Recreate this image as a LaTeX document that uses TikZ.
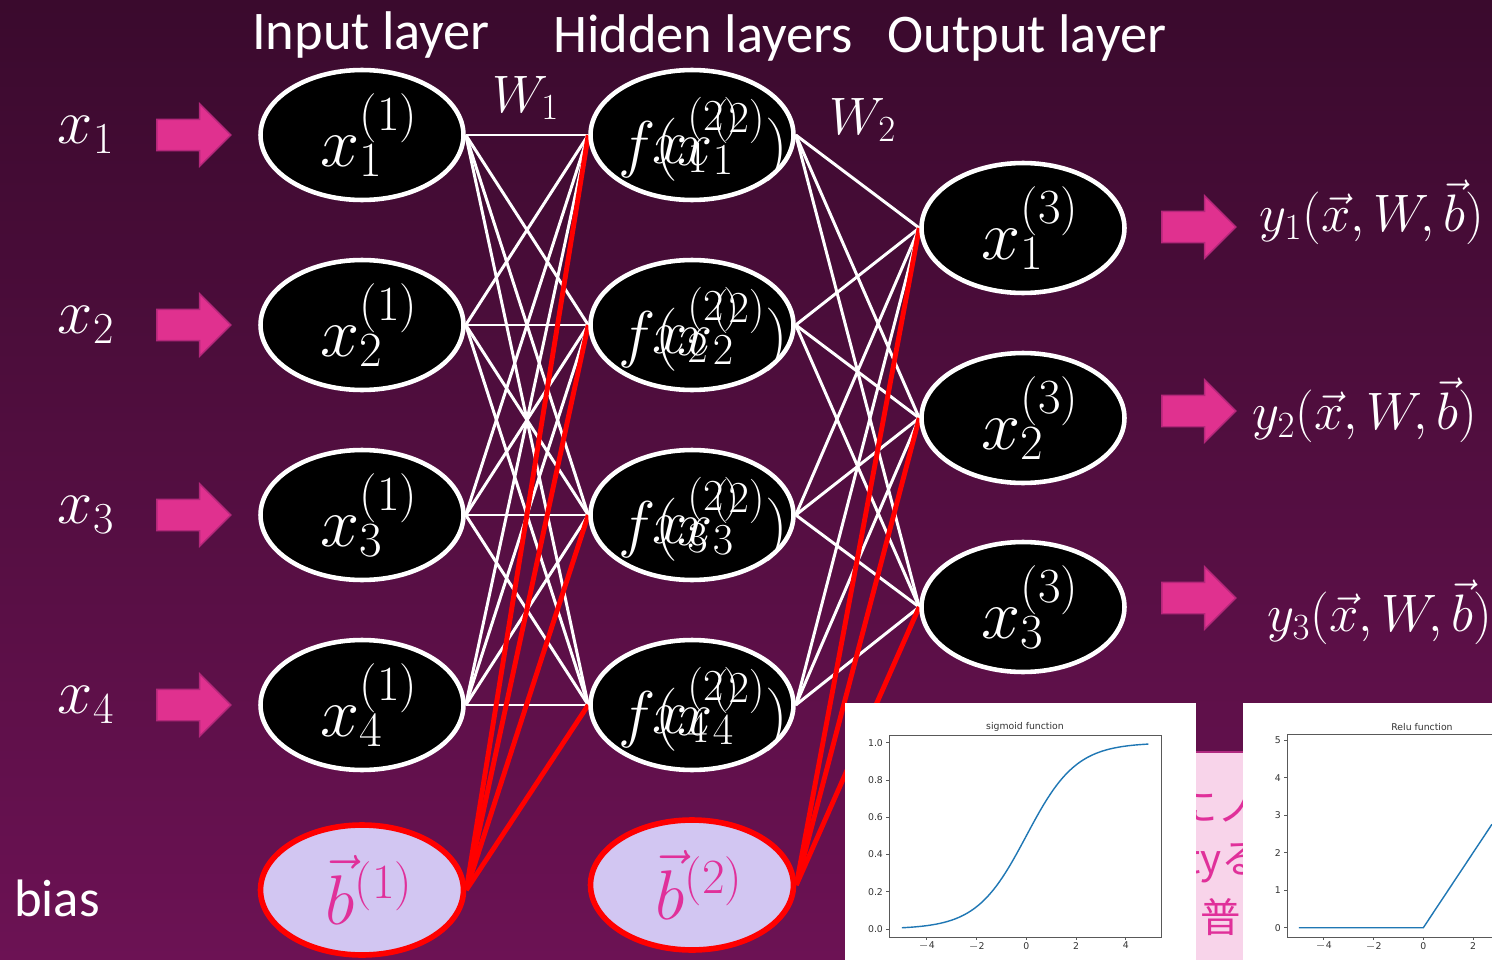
\RequirePackage{fix-cm}
\documentclass[tikz,border=0pt]{standalone}
\usepackage[no-math]{fontspec}
\setmainfont{Carlito}
\newfontfamily\jpfont{Noto Sans CJK JP}
\newfontfamily\plotfont{DejaVu Sans}
\usetikzlibrary{shapes.geometric,shapes.arrows}
\definecolor{bgtop}{HTML}{3A0A2D}
\definecolor{bgbot}{HTML}{6C1254}
\definecolor{arrowpink}{HTML}{E0318F}
\definecolor{arrowedge}{HTML}{B4277A}
\definecolor{biasfill}{HTML}{D2C6F2}
\definecolor{biaspink}{HTML}{E0309A}
\definecolor{plotblue}{HTML}{1F77B4}
\definecolor{notefill}{HTML}{F8D4EA}
\definecolor{noteline}{HTML}{B02A80}
\pgfdeclarelayer{bg}
\pgfdeclarelayer{edges}
\pgfsetlayers{bg,edges,main}
\begin{document}
\begin{tikzpicture}[x=0.02cm, y=-0.02cm,
    nd/.style={ellipse, draw=white, line width=2.6pt, fill=black, text=white, minimum width=4.06cm, minimum height=2.6cm, inner sep=0pt, font=\fontsize{40}{44}\selectfont, execute at begin node=\hspace*{0.3cm}},
    bs/.style={nd, draw=red, line width=3.2pt, fill=biasfill, text=biaspink},
    pa/.style={single arrow, draw=arrowedge, line width=0.8pt, fill=arrowpink, minimum height=1.48cm, minimum width=1.22cm, single arrow head extend=0.31cm, inner xsep=0pt, inner ysep=0.3cm},
    lb/.style={text=white, inner sep=0pt, font=\fontsize{36}{40}\selectfont},
    yb/.style={text=white, inner sep=0pt, font=\fontsize{30}{34}\selectfont},
    ttl/.style={text=white, inner sep=0pt, font=\fontsize{31}{34}\selectfont},
    wl/.style={white, line width=1.7pt},
    rl/.style={red, line width=2.8pt},
    ax/.style={draw=black!65, line width=0.5pt},
    tk/.style={text=black!80, inner sep=1pt, font=\plotfont\fontsize{5.3}{6}\selectfont},
    crv/.style={plotblue, line width=0.8pt},
    jp/.style={text=biaspink, inner sep=0pt, anchor=west, font=\jpfont\fontsize{23}{26}\selectfont}]
  \useasboundingbox (0,0) rectangle (1492,960);
  \begin{pgfonlayer}{bg}
    \shade[top color=bgtop, bottom color=bgbot] (0,0) rectangle (1492,960);
  \end{pgfonlayer}
  \node[ttl] (tin) at (371,35) {Input layer};
  \node[ttl] (thd) at (703,38) {Hidden layers};
  \node[ttl] (tot) at (1027,38) {Output layer};
  \node[yb] (w1) at (526,98) {$W_1$};
  \node[yb] (w2) at (863,120) {$W_2$};
  \node[ttl, font=\fontsize{30}{34}\selectfont] (bl) at (57,898) {bias};
  \foreach \i/\yy in {1/135, 2/325, 3/515, 4/705} {
    \node[lb] (xl\i) at (86,\yy) {$x_{\i}$};
    \node[pa] (ia\i) at (186,\yy) {};
    \node[nd] (in\i) at (362,\yy) {$x_{\i}^{(1)}$};
    \node[nd] (hd\i) at (692,\yy) {};
    \node[lb] (fx\i) at (703,\yy+5) {$f\Big(x_{\i}^{(2)}\Big)$};
    \node[lb] (ov\i) at (696,\yy) {$x_{\i}^{(2)}$};
  }
  \foreach \k/\yy/\ay/\lx/\ly in {1/228/227/1372/212, 2/418/411/1365/410, 3/607/598/1380/612} {
    \node[nd] (ot\k) at (1023,\yy) {$x_{\k}^{(3)}$};
    \node[pa] (oa\k) at (1191,\ay) {};
    \node[yb] (yl\k) at (\lx,\ly) {$y_{\k}(\vec{x},W,\vec{b})$};
  }
  \node[bs] (b1) at (362,890) {$\vec{b}^{(1)}$};
  \node[bs] (b2) at (692,885) {$\vec{b}^{(2)}$};
  \begin{pgfonlayer}{edges}
    \foreach \i in {1,...,4} {
      \foreach \j in {1,...,4} {\draw[wl] (in\i.east) -- (hd\j.west);}
    }
    \foreach \j in {1,...,4} {
      \foreach \k in {1,2,3} {\draw[wl] (hd\j.east) -- (ot\k.west);}
    }
    \foreach \j in {1,...,4} {\draw[rl] (b1.east) -- (hd\j.west);}
    \foreach \k in {1,2,3} {\draw[rl] (b2.east) -- (ot\k.west);}
  \end{pgfonlayer}
  % note box behind the plots
  \fill[notefill] (1190,752) rectangle (1250,960);
  \draw[noteline, line width=1.2pt] (1190,752) -- (1250,752);
  \begin{scope}
    \clip (1196,752) rectangle (1243,960);
    \node[jp] (jp1) at (1177,807) {にノ};
    \node[jp] (jp2) at (1185,863) {tyる};
    \node[jp] (jp3) at (1200,917) {普};
  \end{scope}
  % sigmoid plot
  \fill[white] (845,703) rectangle (1196,960);
  \node[tk] (sgt) at (1025,727) {sigmoid function};
  \draw[ax] (889,735) rectangle (1161,937);
  \foreach \n/\v in {0/0.0, 1/0.2, 2/0.4, 3/0.6, 4/0.8, 5/1.0} {
    \draw[ax] (889,929-37.26*\n) -- (886,929-37.26*\n);
    \node[tk, anchor=east] at (885,929-37.26*\n) {\v};
  }
  \foreach \u/\t in {-4/$-$4, -2/$-$2, 0/0, 2/2, 4/4} {
    \draw[ax] (1026.3+24.9*\u,937) -- (1026.3+24.9*\u,940);
    \node[tk, anchor=north] at (1026.3+24.9*\u,940) {\t};
  }
  \draw[crv] plot[domain=-5:4.9, samples=60, smooth] ({1026.3+24.9*\x},{929-186.3/(1+exp(-\x))});
  % relu plot
  \fill[white] (1243,703) rectangle (1492,960);
  \node[tk] (rlt) at (1422,727) {Relu function};
  \draw[ax] (1492,734) -- (1287,734) -- (1287,937) -- (1492,937);
  \foreach \n in {0,...,5} {
    \draw[ax] (1287,927.7-37.5*\n) -- (1284,927.7-37.5*\n);
    \node[tk, anchor=east] at (1283,927.7-37.5*\n) {\n};
  }
  \foreach \u/\t in {-4/$-$4, -2/$-$2, 0/0, 2/2} {
    \draw[ax] (1423.3+24.9*\u,937) -- (1423.3+24.9*\u,940);
    \node[tk, anchor=north] at (1423.3+24.9*\u,940) {\t};
  }
  \draw[crv] (1298.8,927.7) -- (1423.3,927.7) -- (1492,824.2);
\end{tikzpicture}
\end{document}
